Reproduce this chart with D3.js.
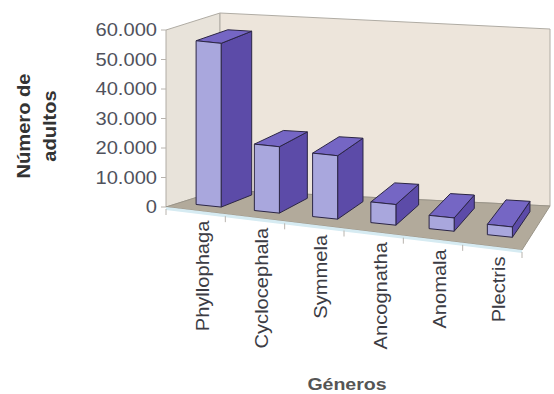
<!DOCTYPE html>
<html>
<head>
<script src="https://cdn.jsdelivr.net/npm/d3@7"></script>
<style>
body { margin: 0; padding: 0; background: #fff; }
text { font-family: "Liberation Sans", Arial, sans-serif; }
</style>
</head>
<body>
<svg></svg>
<script>
var generos = ['Phyllophaga', 'Cyclocephala', 'Symmela', 'Ancognatha', 'Anomala', 'Plectris'];
var adultos = [55500, 22500, 21500, 7000, 4500, 3500];
var yTicks = [0, 10000, 20000, 30000, 40000, 50000, 60000];

var width = 554, height = 394;
var svg = d3.select('svg').attr('width', width).attr('height', height);

// floor corners of the 3d box (front-left, front-right, back-left, back-right)
var FL = [166, 207], FR = [522, 250], BL = [220, 190], BR = [550, 206];
var w0 = 0.25, w1 = 0.85; // bar depth range

var x = d3.scaleBand().domain(generos).range([0, 1]).paddingInner(0.57).paddingOuter(0.285);
var y = d3.scaleLinear().domain([0, 60000]).range([0, 177]);
var fmt = d3.formatLocale({ decimal: ',', thousands: '.', grouping: [3], currency: ['', ''] }).format(',');

function lerp(a, b, t) { return [a[0] + (b[0] - a[0]) * t, a[1] + (b[1] - a[1]) * t]; }
function proj(u, w, v) {
  var p = lerp(lerp(FL, FR, u), lerp(BL, BR, u), w);
  return [p[0], p[1] - y(v)];
}
function poly(pts) { return 'M' + pts.map(function(p) { return p.join(','); }).join('L') + 'Z'; }

var yMax = y.domain()[1];

// walls
svg.append('path').attr('d', poly([proj(0, 0, 0), proj(0, 1, 0), proj(0, 1, yMax), proj(0, 0, yMax)]))
  .attr('fill', '#e8e3da').attr('stroke', '#b0aca4').attr('stroke-width', 1);
svg.append('path').attr('d', poly([proj(0, 1, 0), proj(1, 1, 0), proj(1, 1, yMax), proj(0, 1, yMax)]))
  .attr('fill', '#ede5db').attr('stroke', '#b0aca4').attr('stroke-width', 1);

// floor
svg.append('path').attr('d', poly([proj(0, 0, 0), proj(1, 0, 0), proj(1, 1, 0), proj(0, 1, 0)]))
  .attr('fill', '#b2aa9b').attr('stroke', '#9a9488').attr('stroke-width', 1);
svg.append('line')
  .attr('x1', proj(0, 0, 0)[0]).attr('y1', proj(0, 0, 0)[1] + 1.5)
  .attr('x2', proj(1, 0, 0)[0]).attr('y2', proj(1, 0, 0)[1] + 1.5)
  .attr('stroke', '#d6ebf2').attr('stroke-width', 3);

// value axis ticks + labels
svg.selectAll('.ytick').data(yTicks).enter().append('line')
  .attr('x1', function(d) { return proj(0, 0, d)[0] - 5; })
  .attr('x2', function(d) { return proj(0, 0, d)[0]; })
  .attr('y1', function(d) { return proj(0, 0, d)[1]; })
  .attr('y2', function(d) { return proj(0, 0, d)[1]; })
  .attr('stroke', '#b8b4ae');
svg.selectAll('.ylab').data(yTicks).enter().append('text')
  .attr('transform', function(d) {
    var p = proj(0, 0, d);
    return 'translate(' + (p[0] - 9) + ',' + p[1] + ') scale(1.15,1)';
  })
  .attr('text-anchor', 'end').attr('dy', '0.36em')
  .attr('font-size', 17.5).attr('fill', '#50525c')
  .text(function(d) { return fmt(d); });

// category ticks
svg.selectAll('.xtick').data(d3.range(generos.length + 1)).enter().append('line')
  .attr('x1', function(i) { return proj(i / generos.length, 0, 0)[0]; })
  .attr('x2', function(i) { return proj(i / generos.length, 0, 0)[0]; })
  .attr('y1', function(i) { return proj(i / generos.length, 0, 0)[1] + 2; })
  .attr('y2', function(i) { return proj(i / generos.length, 0, 0)[1] + 8; })
  .attr('stroke', '#b8b4ae');

// bars
var bars = svg.append('g').selectAll('g').data(generos).enter().append('g');
bars.each(function(g, i) {
  var u0 = x(g), u1 = x(g) + x.bandwidth(), v = adultos[i];
  var sel = d3.select(this);
  sel.append('path').attr('d', poly([proj(u1, w0, 0), proj(u1, w1, 0), proj(u1, w1, v), proj(u1, w0, v)]))
    .attr('fill', '#5c4ba8');
  sel.append('path').attr('d', poly([proj(u0, w0, v), proj(u1, w0, v), proj(u1, w1, v), proj(u0, w1, v)]))
    .attr('fill', '#7566c4');
  sel.append('path').attr('d', poly([proj(u0, w0, 0), proj(u1, w0, 0), proj(u1, w0, v), proj(u0, w0, v)]))
    .attr('fill', '#a9a7dd');
  sel.selectAll('path').attr('stroke', '#2b2545').attr('stroke-width', 1).attr('stroke-linejoin', 'round');
});

// category labels
svg.selectAll('.xlab').data(generos).enter().append('text')
  .attr('transform', function(d) {
    var p = proj(x(d) + x.bandwidth() / 2, 0, 0);
    return 'translate(' + (p[0] + 7) + ',' + (p[1] + 10) + ') rotate(-90) scale(1.15,1)';
  })
  .attr('text-anchor', 'end').attr('dy', '0.35em')
  .attr('font-size', 17.5).attr('fill', '#3c3c44')
  .text(function(d) { return d; });

// axis titles
svg.append('text')
  .attr('transform', 'translate(347,390) scale(1.15,1)')
  .attr('text-anchor', 'middle').attr('font-size', 17).attr('font-weight', 'bold').attr('fill', '#555')
  .text('Géneros');
var yt = svg.append('text')
  .attr('transform', 'translate(33,126) rotate(-90) scale(1.15,1)')
  .attr('text-anchor', 'middle').attr('font-size', 17.5).attr('font-weight', 'bold').attr('fill', '#333');
yt.append('tspan').attr('x', 0).attr('dy', '-0.15em').text('Número de');
yt.append('tspan').attr('x', 0).attr('dy', '1.45em').text('adultos');
</script>
</body>
</html>
